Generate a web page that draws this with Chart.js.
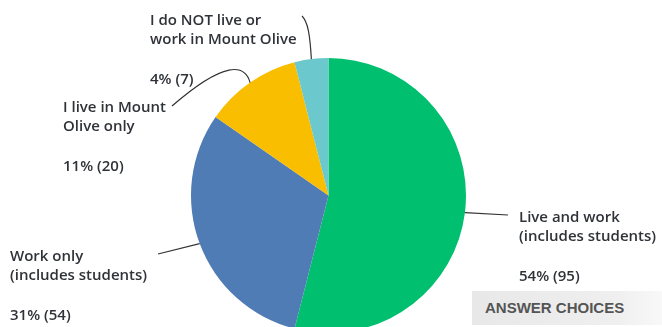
<!DOCTYPE html>
<html>
<head>
<meta charset="utf-8">
<script src="https://cdn.jsdelivr.net/npm/chart.js@4"></script>
<style>
  html, body { margin: 0; padding: 0; background: #fff; overflow: hidden; }
  #wrap { position: relative; width: 662px; height: 340px; }
  #answers {
    position: absolute; left: 472px; top: 291px; width: 190px; height: 34px;
    box-sizing: border-box; padding-left: 13px;
    background: linear-gradient(to right, #e8e8e8, #efefef 75%, #f8f8f8);
    font: bold 15px "Liberation Sans", Arial, sans-serif; color: #555;
    line-height: 34px;
  }
</style>
</head>
<body>
<div id="wrap">
  <canvas id="pie" width="662" height="340"></canvas>
  <div id="answers">ANSWER CHOICES</div>
</div>
<script>
const choices = [
  ["Live and work", "(includes students)"],
  ["Work only", "(includes students)"],
  ["I live in Mount", "Olive only"],
  ["I do NOT live or", "work in Mount Olive"]
];
const responses = [95, 54, 20, 7];
const sliceColors = ["#00bf6f", "#507cb6", "#f9be00", "#6bc8cd"];

// where each callout's text sits and how its leader line runs
const calloutLayout = [
  { tx: 519, ty: 222, line: [[508, 215]] },
  { tx: 10, ty: 261, line: [[158, 254]] },
  { tx: 63, ty: 112, curve: [[245, 64], [225, 60], [172, 106]] },
  { tx: 150, ty: 25, curve: [[310, 35], [308, 22], [302, 16]] }
];

const total = responses.reduce((a, b) => a + b, 0);

const callouts = {
  id: "callouts",
  afterDraw(chart) {
    const ctx = chart.ctx;
    const arcs = chart.getDatasetMeta(0).data;
    ctx.save();
    arcs.forEach((arc, i) => {
      const p = arc.getProps(["x", "y", "startAngle", "endAngle", "outerRadius"], true);
      const mid = (p.startAngle + p.endAngle) / 2;
      const sx = p.x + Math.cos(mid) * p.outerRadius;
      const sy = p.y + Math.sin(mid) * p.outerRadius;
      const lay = calloutLayout[i];

      ctx.strokeStyle = "#333";
      ctx.lineWidth = 1.2;
      ctx.beginPath();
      ctx.moveTo(sx, sy);
      if (lay.curve) {
        const [c1, c2, e] = lay.curve;
        ctx.bezierCurveTo(c1[0], c1[1], c2[0], c2[1], e[0], e[1]);
      } else {
        ctx.lineTo(lay.line[0][0], lay.line[0][1]);
      }
      ctx.stroke();

      ctx.fillStyle = "#2f3338";
      ctx.font = "600 15px 'Open Sans', Lato, sans-serif";
      ctx.textAlign = "left";
      ctx.textBaseline = "alphabetic";
      choices[i].forEach((t, k) => ctx.fillText(t, lay.tx, lay.ty + k * 19));
      const pct = Math.round(responses[i] / total * 100);
      ctx.fillText(pct + "% (" + responses[i] + ")", lay.tx, lay.ty + (choices[i].length - 1) * 19 + 40);
    });
    ctx.restore();
  }
};

new Chart(document.getElementById("pie"), {
  type: "pie",
  data: {
    labels: choices.map(c => c.join(" ")),
    datasets: [{
      data: responses,
      backgroundColor: sliceColors,
      borderWidth: 0
    }]
  },
  options: {
    responsive: false,
    animation: false,
    layout: { padding: { top: 58, bottom: 7, left: 0, right: 5 } },
    plugins: { legend: { display: false }, tooltip: { enabled: false } }
  },
  plugins: [callouts]
});
</script>
</body>
</html>
